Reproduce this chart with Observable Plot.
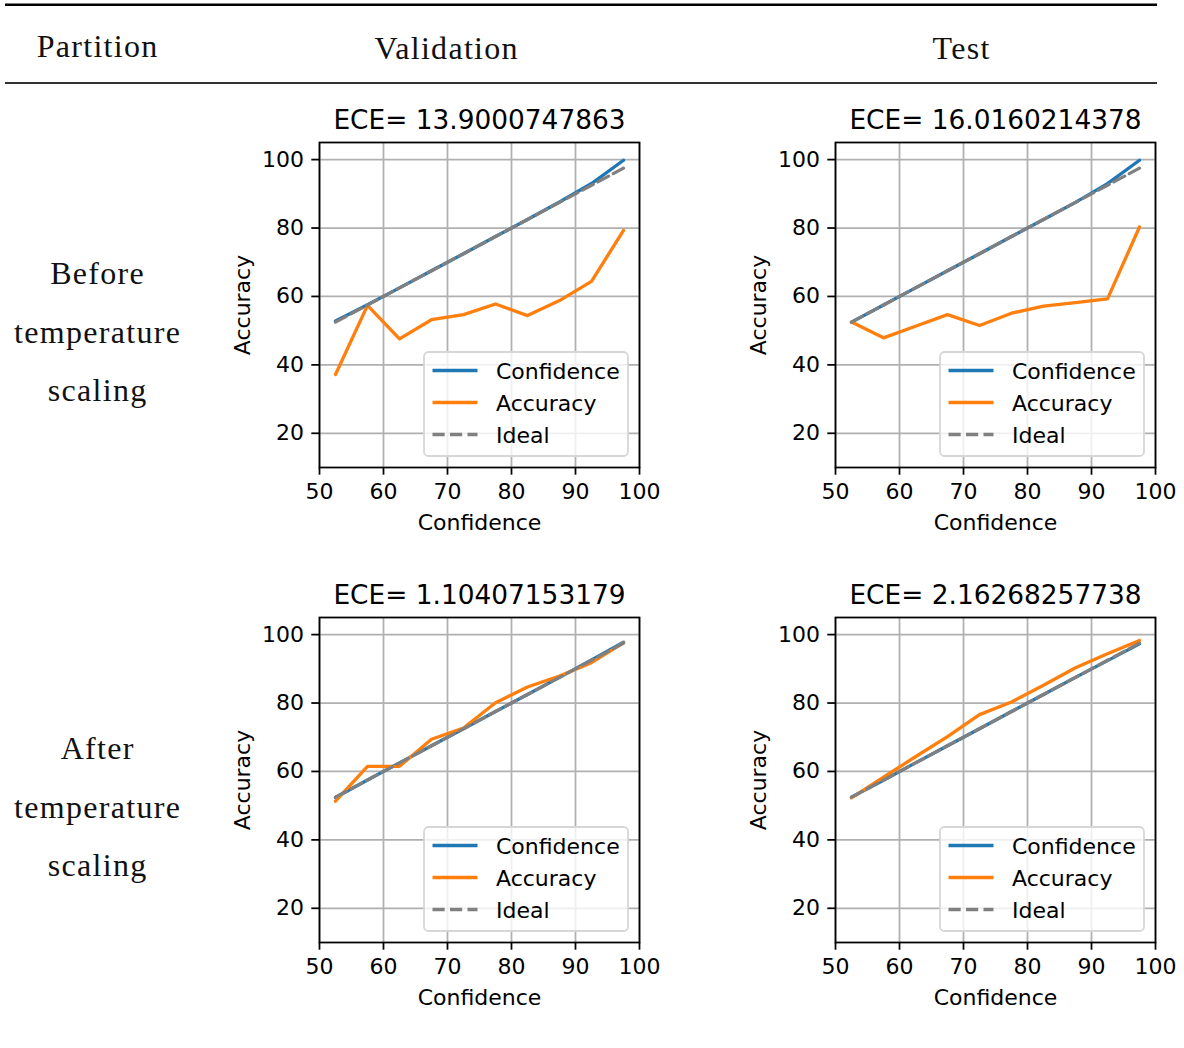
<!DOCTYPE html>
<html>
<head>
<meta charset="utf-8">
<script src="https://cdn.jsdelivr.net/npm/d3@7"></script>
<script src="https://cdn.jsdelivr.net/npm/@observablehq/plot@0.6"></script>
<style>
  html, body { margin: 0; padding: 0; background: #fff; }
  #page { position: relative; width: 1184px; height: 1048px; overflow: hidden; background: #fff; }
  .panel { position: absolute; }
  .panel svg { overflow: visible; }
  #table { position: absolute; left: 0; top: 0; }
</style>
</head>
<body>
<div id="page"></div>
<script>
// ---------- data ----------
const columnHeaders = ["Partition", "Validation", "Test"];
const rowLabels = [["Before", "temperature", "scaling"], ["After", "temperature", "scaling"]];
const binCenters = [52.5, 57.5, 62.5, 67.5, 72.5, 77.5, 82.5, 87.5, 92.5, 97.5];
const xTicks = [50, 60, 70, 80, 90, 100];
const yTicks = [20, 40, 60, 80, 100];
const seriesNames = ["Confidence", "Accuracy", "Ideal"];

const eceValBefore = "13.9000747863";
const eceTestBefore = "16.0160214378";
const eceValAfter = "1.10407153179";
const eceTestAfter = "2.16268257738";

const confValBefore = [52.8, 57.6, 62.5, 67.5, 72.5, 77.5, 82.5, 87.6, 93.0, 99.8];
const accValBefore  = [37.2, 57.4, 47.6, 53.2, 54.7, 57.8, 54.4, 58.8, 64.4, 79.3];
const confTestBefore = [52.5, 57.5, 62.5, 67.5, 72.5, 77.5, 82.5, 87.5, 93.0, 99.8];
const accTestBefore  = [52.5, 47.9, 51.3, 54.7, 51.5, 55.1, 57.2, 58.2, 59.3, 80.3];
const confValAfter = [52.4, 57.5, 62.5, 67.5, 72.5, 77.5, 82.5, 87.5, 92.6, 97.8];
const accValAfter  = [51.3, 61.5, 61.5, 69.4, 72.7, 80.1, 84.7, 87.9, 91.8, 97.6];
const confTestAfter = [52.5, 57.4, 62.5, 67.5, 72.5, 77.5, 82.5, 87.5, 92.4, 97.3];
const accTestAfter  = [52.3, 58.3, 64.3, 70.2, 76.6, 80.3, 85.2, 90.3, 94.4, 98.3];

// ---------- style ----------
const BLUE = "#1f77b4", ORANGE = "#ff7f0e", GRAY = "#808080", GRID = "#b0b0b0";
const LW = 3.3, AXW = 1.76;
const SANS = "DejaVu Sans";
const SERIF = "Liberation Serif";

const page = document.getElementById("page");

// ---------- table decorations ----------
const tbl = d3.select(page).append("svg").attr("id", "table")
  .attr("width", 1184).attr("height", 1048);
tbl.append("rect").attr("x", 5).attr("y", 3.5).attr("width", 1152).attr("height", 2.5).attr("fill", "#000");
tbl.append("rect").attr("x", 5).attr("y", 82.2).attr("width", 1152).attr("height", 1.6).attr("fill", "#000");
const headerX = [97, 446, 961];
const headerY = [56.5, 59, 59];
function serifText(x, y, t) {
  tbl.append("text").attr("x", x + 0.65).attr("y", y)
    .attr("text-anchor", "middle").attr("font-family", SERIF).attr("font-size", 32)
    .attr("letter-spacing", 1.3).attr("fill", "#111").text(t);
}
columnHeaders.forEach((h, i) => serifText(headerX[i], headerY[i], h));
rowLabels.forEach((lines, r) => {
  lines.forEach((t, j) => serifText(97, 284 + r * 475 + j * 58.5, t));
});

// ---------- panels ----------
const mL = 100, mR = 29, mT = 47, mB = 75, fw = 320, fh = 325;

function panel(left, top, ece, conf, acc) {
  const data = binCenters.map((b, i) => ({bin: b, conf: conf[i], acc: acc[i]}));
  const chart = Plot.plot({
    width: mL + fw + mR,
    height: mT + fh + mB,
    marginLeft: mL, marginRight: mR, marginTop: mT, marginBottom: mB,
    style: {fontFamily: SANS, fontSize: "22px", color: "#000", background: "transparent", overflow: "visible"},
    x: {domain: [50, 100]},
    y: {domain: [10, 105]},
    marks: [
      Plot.gridX(xTicks, {stroke: GRID, strokeOpacity: 1, strokeWidth: AXW}),
      Plot.gridY(yTicks, {stroke: GRID, strokeOpacity: 1, strokeWidth: AXW}),
      Plot.line(data, {x: "bin", y: "conf", stroke: BLUE, strokeWidth: LW}),
      Plot.line(data, {x: "bin", y: "acc", stroke: ORANGE, strokeWidth: LW}),
      Plot.line(data, {x: "bin", y: "bin", stroke: GRAY, strokeWidth: LW, strokeDasharray: "12.2,5.3"}),
      Plot.frame({stroke: "#000", strokeWidth: AXW}),
      Plot.axisX(xTicks, {tickSize: 7.7, tickPadding: 7.7, strokeWidth: AXW, label: null, fontSize: 22}),
      Plot.axisY(yTicks, {tickSize: 7.7, tickPadding: 7.7, strokeWidth: AXW, label: null, fontSize: 22}),
      Plot.text(["ECE= " + ece], {text: d => d, frameAnchor: "top", dy: -13.5, lineAnchor: "bottom", textAnchor: "middle", fontSize: 26.4, fill: "#000"}),
      Plot.text(["Confidence"], {text: d => d, frameAnchor: "bottom", dy: 55, lineAnchor: "middle", textAnchor: "middle", fontSize: 22, fill: "#000"}),
      Plot.text(["Accuracy"], {text: d => d, frameAnchor: "left", dx: -77, rotate: -90, lineAnchor: "middle", textAnchor: "middle", fontSize: 22, fill: "#000"})
    ]
  });
  const div = d3.select(page).append("div").attr("class", "panel")
    .style("left", left + "px").style("top", top + "px");
  div.node().appendChild(chart);

  // legend (lower right, inside frame)
  const lw = 204, lh = 104, pad = 11;
  const lg = div.append("svg").attr("width", lw + 4).attr("height", lh + 4)
    .style("position", "absolute")
    .style("left", (mL + fw - pad - lw - 2) + "px")
    .style("top", (mT + fh - pad - lh - 2) + "px");
  lg.append("rect").attr("x", 2).attr("y", 2).attr("width", lw).attr("height", lh)
    .attr("rx", 4.5).attr("fill", "rgba(255,255,255,0.8)").attr("stroke", "#d6d6d6").attr("stroke-width", AXW);
  const colors = [BLUE, ORANGE, GRAY];
  seriesNames.forEach((s, i) => {
    const cy = 2 + 18.5 + i * 32;
    lg.append("line").attr("x1", 2 + 8.5).attr("x2", 2 + 53.5).attr("y1", cy).attr("y2", cy)
      .attr("stroke", colors[i]).attr("stroke-width", LW)
      .attr("stroke-dasharray", i === 2 ? "12.2,5.3" : null);
    lg.append("text").attr("x", 2 + 72).attr("y", cy + 8)
      .attr("font-family", SANS).attr("font-size", 22).attr("fill", "#000").text(s);
  });
}

panel(219, 95, eceValBefore, confValBefore, accValBefore);
panel(735, 95, eceTestBefore, confTestBefore, accTestBefore);
panel(219, 570, eceValAfter, confValAfter, accValAfter);
panel(735, 570, eceTestAfter, confTestAfter, accTestAfter);
</script>
</body>
</html>
